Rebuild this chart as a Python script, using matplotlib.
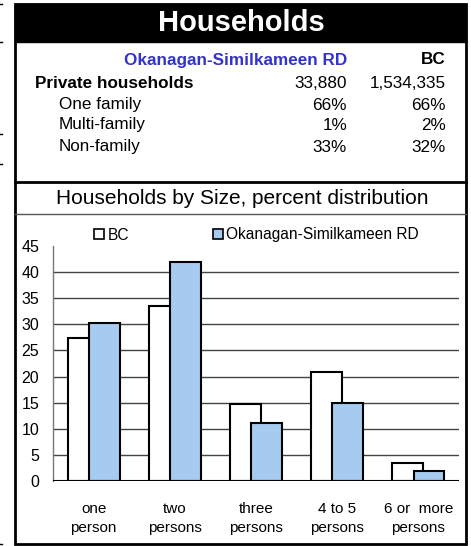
import numpy as np
import matplotlib
matplotlib.use("Agg")
import matplotlib.pyplot as plt
from matplotlib.patches import Rectangle, Patch

plt.rcParams['font.family'] = ['Liberation Sans', 'DejaVu Sans']

# data
categories = ["one\nperson", "two\npersons", "three\npersons", "4 to 5\npersons", "6 or  more\npersons"]
bc_values = [27.3, 33.6, 14.8, 20.9, 3.4]
region_values = [30.2, 42.0, 11.2, 14.9, 1.9]
region_name = "Okanagan-Similkameen RD"

table_rows = ["Private households", "One family", "Multi-family", "Non-family"]
table_region = ["33,880", "66%", "1%", "33%"]
table_bc = ["1,534,335", "66%", "2%", "32%"]

W, H = 471, 546
fig = plt.figure(figsize=(W / 100, H / 100), dpi=100)

# background drawing layer in pixel coords
bg = fig.add_axes([0, 0, 1, 1])
bg.set_xlim(0, W)
bg.set_ylim(H, 0)
bg.axis("off")

# outer frame
bg.add_patch(Rectangle((15, 4), 451, 540, fill=False, ec="black", lw=2))
# black header band
bg.add_patch(Rectangle((15, 4), 451, 38, fc="black", ec="black"))
bg.text(241, 23, "Households", color="white", fontsize=21, fontweight="bold",
        ha="center", va="center")
# separators
bg.plot([15, 466], [182, 182], color="black", lw=2)
bg.plot([15, 466], [214, 214], color="#555555", lw=1)

# little marks at the left edge
for yy in [4, 42, 134, 164, 544]:
    bg.plot([0, 2], [yy, yy], color="black", lw=1)

# summary table
fs = 12.3
bg.text(347, 60, region_name, color="#3333CC", fontsize=fs, fontweight="bold",
        ha="right", va="center")
bg.text(446, 60, "BC", color="black", fontsize=fs, fontweight="bold",
        ha="right", va="center")
row_y = [84, 105, 125, 147]
for i, name in enumerate(table_rows):
    first = i == 0
    bg.text(35 if first else 59, row_y[i], name, fontsize=fs,
            fontweight="bold" if first else "normal", ha="left", va="center")
    bg.text(347, row_y[i], table_region[i], fontsize=fs, ha="right", va="center")
    bg.text(446, row_y[i], table_bc[i], fontsize=fs, ha="right", va="center")

bg.text(242, 198, "Households by Size, percent distribution", fontsize=15,
        ha="center", va="center")

# bar chart
ax = fig.add_axes([53 / W, (H - 481) / H, (459 - 53) / W, (481 - 246) / H])
x = np.arange(len(categories))
bw = 0.38
ax.bar(x - 0.13, bc_values, width=bw, color="white", edgecolor="black", lw=1.5, zorder=2)
ax.bar(x + 0.13, region_values, width=bw, color="#A6CAF0", edgecolor="black", lw=1.5, zorder=3)

ax.set_xlim(-0.5, len(categories) - 0.5)
ax.set_ylim(0, 45)
ax.set_yticks(range(0, 50, 5))
ax.set_xticks(x)
ax.set_xticklabels(categories, fontsize=11, linespacing=1.5)
ax.tick_params(axis="y", labelsize=11.5, length=0, pad=10)
ax.tick_params(axis="x", length=0, pad=15)
for v in range(5, 45, 5):
    ax.axhline(v, color="#444444", lw=1, zorder=1)
ax.axhline(0, color="black", lw=1.5, zorder=4)
for s in ["top", "right", "bottom"]:
    ax.spines[s].set_visible(False)
ax.spines["left"].set_color("#777777")
ax.spines["left"].set_linewidth(1)
ax.patch.set_alpha(0)

handles = [Patch(fc="white", ec="black", lw=1.2, label="BC"),
           Patch(fc="#A6CAF0", ec="black", lw=1.2, label=region_name)]
fig.legend(handles=handles, loc="center left", bbox_to_anchor=(88 / W, 1 - 235 / H),
           ncol=2, frameon=False, fontsize=11.2, handlelength=0.65, handleheight=0.65,
           handletextpad=0.2, columnspacing=5.4, borderaxespad=0)

fig.savefig("out.png", dpi=100)
